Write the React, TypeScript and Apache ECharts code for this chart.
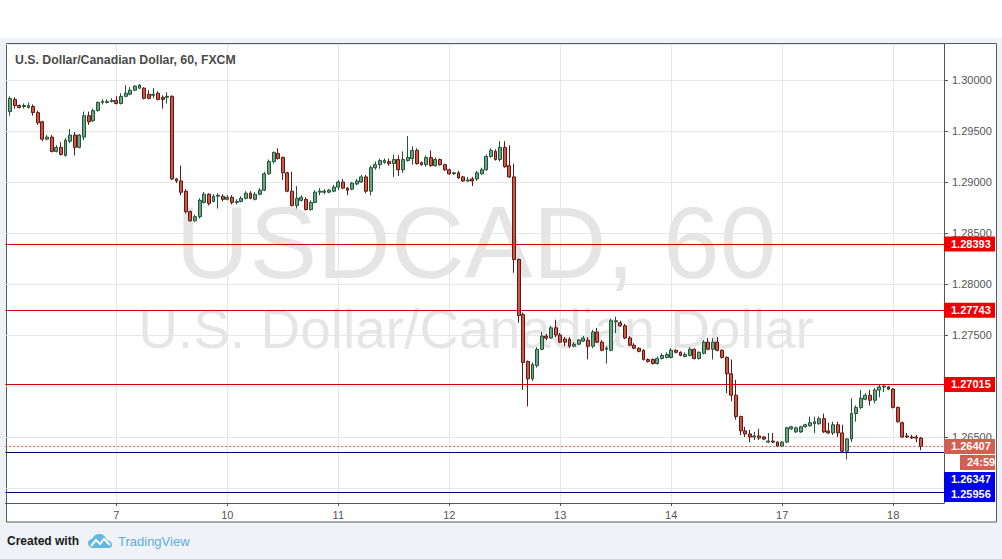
import React, { useEffect, useRef } from 'react';
import * as echarts from 'echarts';

// ---- Data (USDCAD, 60 min, FXCM) ----
const opens = [
  1.2969, 1.2981, 1.2975, 1.2974, 1.2973, 1.2974, 1.2968, 1.2959, 1.2942, 1.2944,
  1.2930, 1.2934, 1.2926, 1.2940, 1.2946, 1.2934, 1.2944, 1.2965, 1.2960, 1.2970,
  1.2978, 1.2978, 1.2979, 1.2980, 1.2977, 1.2984, 1.2986, 1.2990, 1.2992, 1.2992,
  1.2986, 1.2985, 1.2987, 1.2983, 1.2983, 1.2984, 1.2903, 1.2901, 1.2891, 1.2871,
  1.2862, 1.2866, 1.2880, 1.2888, 1.2881, 1.2886, 1.2886, 1.2883, 1.2885, 1.2880,
  1.2881, 1.2884, 1.2889, 1.2883, 1.2888, 1.2892, 1.2908, 1.2920, 1.2928, 1.2924,
  1.2909, 1.2891, 1.2877, 1.2882, 1.2883, 1.2873, 1.2880, 1.2890, 1.2890, 1.2890,
  1.2891, 1.2895, 1.2900, 1.2894, 1.2893, 1.2898, 1.2900, 1.2905, 1.2891, 1.2914,
  1.2917, 1.2919, 1.2920, 1.2918, 1.2922, 1.2912, 1.2921, 1.2923, 1.2931, 1.2919,
  1.2917, 1.2924, 1.2916, 1.2922, 1.2917, 1.2912, 1.2908, 1.2909, 1.2905, 1.2901,
  1.2903, 1.2903, 1.2908, 1.2912, 1.2925, 1.2930, 1.2922, 1.2934, 1.2916, 1.2905,
  1.2824, 1.2770, 1.2724, 1.2707, 1.2720, 1.2736, 1.2749, 1.2747, 1.2757, 1.2750,
  1.2746, 1.2746, 1.2739, 1.2741, 1.2744, 1.2745, 1.2739, 1.2753, 1.2743, 1.2736,
  1.2735, 1.2763, 1.2762, 1.2759, 1.2747, 1.2740, 1.2737, 1.2735, 1.2726, 1.2726,
  1.2722, 1.2727, 1.2728, 1.2728, 1.2735, 1.2733, 1.2729, 1.2730, 1.2736, 1.2727,
  1.2732, 1.2743, 1.2736, 1.2743, 1.2735, 1.2728, 1.2712, 1.2691, 1.2670, 1.2656,
  1.2653, 1.2650, 1.2651, 1.2650, 1.2645, 1.2646, 1.2645, 1.2641, 1.2645, 1.2658,
  1.2655, 1.2655, 1.2660, 1.2661, 1.2663, 1.2663, 1.2668, 1.2656, 1.2654, 1.2662,
  1.2654, 1.2636, 1.2648, 1.2673, 1.2679, 1.2687, 1.2691, 1.2686, 1.2696, 1.2699,
  1.2699, 1.2697, 1.2679, 1.2664, 1.2651, 1.2650, 1.2650, 1.2649,
];
const highs = [
  1.2984, 1.2983, 1.2976, 1.2977, 1.2978, 1.2976, 1.2970, 1.2960, 1.2946, 1.2946,
  1.2936, 1.2939, 1.2943, 1.2952, 1.2949, 1.2947, 1.2969, 1.2969, 1.2972, 1.2979,
  1.2981, 1.2981, 1.2982, 1.2984, 1.2987, 1.2995, 1.2993, 1.2995, 1.2996, 1.2993,
  1.2990, 1.2992, 1.2989, 1.2985, 1.2988, 1.2985, 1.2904, 1.2916, 1.2893, 1.2872,
  1.2868, 1.2884, 1.2890, 1.2889, 1.2888, 1.2889, 1.2888, 1.2887, 1.2887, 1.2883,
  1.2886, 1.2891, 1.2891, 1.2890, 1.2894, 1.2910, 1.2922, 1.2930, 1.2933, 1.2925,
  1.2910, 1.2910, 1.2896, 1.2887, 1.2885, 1.2882, 1.2892, 1.2894, 1.2893, 1.2893,
  1.2897, 1.2902, 1.2903, 1.2895, 1.2900, 1.2903, 1.2907, 1.2907, 1.2916, 1.2920,
  1.2923, 1.2923, 1.2923, 1.2927, 1.2926, 1.2930, 1.2945, 1.2935, 1.2933, 1.2920,
  1.2926, 1.2931, 1.2924, 1.2923, 1.2918, 1.2913, 1.2910, 1.2911, 1.2906, 1.2905,
  1.2905, 1.2911, 1.2914, 1.2927, 1.2933, 1.2932, 1.2940, 1.2940, 1.2936, 1.2918,
  1.2825, 1.2772, 1.2725, 1.2723, 1.2738, 1.2753, 1.2751, 1.2759, 1.2765, 1.2752,
  1.2748, 1.2748, 1.2743, 1.2746, 1.2749, 1.2748, 1.2755, 1.2757, 1.2745, 1.2739,
  1.2766, 1.2768, 1.2764, 1.2761, 1.2749, 1.2742, 1.2738, 1.2736, 1.2727, 1.2727,
  1.2729, 1.2732, 1.2733, 1.2737, 1.2736, 1.2734, 1.2733, 1.2738, 1.2737, 1.2734,
  1.2745, 1.2747, 1.2747, 1.2748, 1.2736, 1.2729, 1.2726, 1.2706, 1.2671, 1.2660,
  1.2657, 1.2655, 1.2658, 1.2651, 1.2654, 1.2654, 1.2646, 1.2646, 1.2660, 1.2661,
  1.2660, 1.2661, 1.2663, 1.2670, 1.2670, 1.2670, 1.2673, 1.2664, 1.2665, 1.2665,
  1.2662, 1.2649, 1.2688, 1.2681, 1.2696, 1.2693, 1.2696, 1.2698, 1.2701, 1.2701,
  1.2700, 1.2698, 1.2680, 1.2665, 1.2654, 1.2652, 1.2652, 1.2650,
];
const lows = [
  1.2965, 1.2972, 1.2972, 1.2972, 1.2972, 1.2965, 1.2956, 1.2940, 1.2941, 1.2929,
  1.2929, 1.2926, 1.2925, 1.2938, 1.2926, 1.2933, 1.2941, 1.2956, 1.2959, 1.2969,
  1.2976, 1.2977, 1.2978, 1.2976, 1.2976, 1.2983, 1.2985, 1.2989, 1.2991, 1.2981,
  1.2981, 1.2982, 1.2980, 1.2972, 1.2977, 1.2902, 1.2899, 1.2887, 1.2869, 1.2861,
  1.2861, 1.2864, 1.2879, 1.2877, 1.2880, 1.2874, 1.2881, 1.2882, 1.2878, 1.2878,
  1.2880, 1.2883, 1.2883, 1.2882, 1.2887, 1.2891, 1.2907, 1.2918, 1.2922, 1.2902,
  1.2890, 1.2876, 1.2874, 1.2881, 1.2872, 1.2872, 1.2879, 1.2887, 1.2888, 1.2889,
  1.2890, 1.2892, 1.2893, 1.2887, 1.2892, 1.2897, 1.2899, 1.2889, 1.2887, 1.2912,
  1.2913, 1.2918, 1.2916, 1.2905, 1.2906, 1.2909, 1.2920, 1.2917, 1.2917, 1.2916,
  1.2915, 1.2915, 1.2915, 1.2916, 1.2911, 1.2907, 1.2907, 1.2903, 1.2900, 1.2900,
  1.2896, 1.2901, 1.2907, 1.2911, 1.2924, 1.2921, 1.2920, 1.2914, 1.2904, 1.2811,
  1.2762, 1.2696, 1.2680, 1.2705, 1.2718, 1.2735, 1.2745, 1.2746, 1.2748, 1.2742,
  1.2739, 1.2737, 1.2738, 1.2740, 1.2743, 1.2726, 1.2737, 1.2742, 1.2734, 1.2722,
  1.2734, 1.2752, 1.2758, 1.2746, 1.2739, 1.2736, 1.2733, 1.2725, 1.2723, 1.2721,
  1.2721, 1.2726, 1.2727, 1.2727, 1.2732, 1.2729, 1.2728, 1.2729, 1.2726, 1.2726,
  1.2731, 1.2735, 1.2726, 1.2734, 1.2727, 1.2693, 1.2685, 1.2667, 1.2652, 1.2650,
  1.2645, 1.2647, 1.2647, 1.2647, 1.2644, 1.2644, 1.2640, 1.2640, 1.2644, 1.2657,
  1.2654, 1.2654, 1.2659, 1.2660, 1.2654, 1.2662, 1.2654, 1.2653, 1.2652, 1.2650,
  1.2635, 1.2628, 1.2645, 1.2665, 1.2677, 1.2686, 1.2681, 1.2683, 1.2689, 1.2694,
  1.2696, 1.2678, 1.2664, 1.2649, 1.2649, 1.2648, 1.2645, 1.2637,
];
const closes = [
  1.2982, 1.2975, 1.2973, 1.2975, 1.2975, 1.2968, 1.2958, 1.2942, 1.2944, 1.2930,
  1.2934, 1.2927, 1.2941, 1.2946, 1.2934, 1.2946, 1.2965, 1.2959, 1.2970, 1.2978,
  1.2979, 1.2979, 1.2980, 1.2977, 1.2984, 1.2987, 1.2990, 1.2994, 1.2995, 1.2982,
  1.2982, 1.2986, 1.2981, 1.2981, 1.2984, 1.2903, 1.2901, 1.2890, 1.2871, 1.2862,
  1.2866, 1.2882, 1.2888, 1.2879, 1.2886, 1.2887, 1.2883, 1.2885, 1.2880, 1.2881,
  1.2884, 1.2889, 1.2884, 1.2888, 1.2892, 1.2908, 1.2920, 1.2929, 1.2923, 1.2909,
  1.2891, 1.2877, 1.2884, 1.2885, 1.2873, 1.2880, 1.2890, 1.2891, 1.2891, 1.2892,
  1.2895, 1.2900, 1.2894, 1.2892, 1.2899, 1.2901, 1.2905, 1.2891, 1.2914, 1.2917,
  1.2921, 1.2921, 1.2918, 1.2922, 1.2912, 1.2922, 1.2924, 1.2931, 1.2918, 1.2917,
  1.2924, 1.2916, 1.2922, 1.2917, 1.2912, 1.2908, 1.2909, 1.2904, 1.2901, 1.2902,
  1.2901, 1.2909, 1.2912, 1.2925, 1.2931, 1.2922, 1.2934, 1.2915, 1.2905, 1.2824,
  1.2769, 1.2723, 1.2707, 1.2721, 1.2736, 1.2749, 1.2747, 1.2757, 1.2750, 1.2743,
  1.2743, 1.2739, 1.2741, 1.2745, 1.2747, 1.2739, 1.2753, 1.2743, 1.2735, 1.2737,
  1.2764, 1.2764, 1.2759, 1.2747, 1.2740, 1.2737, 1.2734, 1.2726, 1.2724, 1.2722,
  1.2727, 1.2730, 1.2731, 1.2735, 1.2733, 1.2730, 1.2731, 1.2736, 1.2727, 1.2733,
  1.2743, 1.2736, 1.2743, 1.2735, 1.2728, 1.2712, 1.2691, 1.2670, 1.2656, 1.2653,
  1.2650, 1.2651, 1.2649, 1.2648, 1.2646, 1.2645, 1.2641, 1.2645, 1.2659, 1.2660,
  1.2659, 1.2660, 1.2662, 1.2664, 1.2665, 1.2668, 1.2655, 1.2654, 1.2662, 1.2654,
  1.2636, 1.2648, 1.2673, 1.2679, 1.2688, 1.2691, 1.2686, 1.2696, 1.2699, 1.2700,
  1.2697, 1.2679, 1.2665, 1.2650, 1.2650, 1.2649, 1.2649, 1.26407,
];

const dayLabels = ['7', '10', '11', '12', '13', '14', '17', '18'];
const dayStartCandle = [23, 47, 71, 95, 119, 143, 167, 191];

const redLevels = [1.28393, 1.27743, 1.27015];
const blueLevels = [1.26347, 1.25956];
const lastPrice = 1.26407;
const countdown = '24:59';

const titleText = 'U.S. Dollar/Canadian Dollar, 60, FXCM';
const watermarkSymbol = 'USDCAD, 60';
const watermarkName = 'U.S. Dollar/Canadian Dollar';

const yMin = 1.258529;
const yMax = 1.303529;

// ---- Build library inputs ----
const LEAD = 1;
const TRAIL = 5;
const total = LEAD + opens.length + TRAIL;
const categories: string[] = Array.from({ length: total }, (_, i) => 'c' + i);
const labelAt = new Map<number, string>();
dayStartCandle.forEach((c, k) => labelAt.set(c + LEAD, dayLabels[k]));
const isDay = (index: number) => labelAt.has(index);

const candleData: any[] = [['-', '-', '-', '-']];
for (let i = 0; i < opens.length; i++) {
  candleData.push([opens[i], closes[i], lows[i], highs[i]]);
}

const FONT = '"Liberation Sans", Arial, sans-serif';

echarts.graphic.registerShape(
  'tvcloud',
  echarts.graphic.extendPath(
    'M5.5 14C2.5 14 0 11.8 0 9.2C0 6.8 1.9 4.9 4.3 4.7C5.4 1.9 8.1 0 11.2 0C14.9 0 18 2.6 18.7 6.1C21.6 6.2 24 8.3 24 10.9C24 12.6 22.6 14 20.9 14Z',
    {}
  ) as any
);

const option: any = {
  animation: false,
  backgroundColor: 'transparent',
  grid: { left: 5.4, right: 58, top: 44, bottom: 56 },
  xAxis: {
    type: 'category',
    data: categories,
    boundaryGap: false,
    axisLine: { show: true, lineStyle: { color: '#555', width: 1 } },
    axisTick: { show: true, interval: isDay, length: 3, lineStyle: { color: '#555' } },
    axisLabel: {
      show: true,
      interval: isDay,
      formatter: (_v: string, i: number) => labelAt.get(i) ?? '',
      color: '#555',
      fontSize: 11,
      fontFamily: FONT,
      margin: 6,
    },
    splitLine: { show: true, interval: isDay, lineStyle: { color: '#e6e6e6', width: 1 } },
  },
  yAxis: {
    type: 'value',
    position: 'right',
    min: yMin,
    max: yMax,
    splitNumber: 9,
    minInterval: 0.005,
    maxInterval: 0.005,
    axisLine: { show: true, lineStyle: { color: '#555', width: 1 } },
    axisTick: { show: true, length: 4, lineStyle: { color: '#555' } },
    axisLabel: {
      formatter: (v: number) => v.toFixed(5),
      showMinLabel: false,
      showMaxLabel: false,
      color: '#555',
      fontSize: 11,
      fontFamily: FONT,
      margin: 8,
    },
    splitLine: { show: true, lineStyle: { color: '#e6e6e6', width: 1 } },
  },
  series: [
    {
      type: 'candlestick',
      data: candleData,
      barWidth: 3.4,
      itemStyle: {
        color: '#6ba583',
        color0: '#d75442',
        borderColor: '#225437',
        borderColor0: '#5b1a13',
        borderWidth: 1,
      },
      markLine: {
        silent: true,
        precision: 5,
        symbol: ['none', 'none'],
        label: { show: false },
        emphasis: { disabled: true },
        data: [
          ...redLevels.map((v) => ({ yAxis: v, lineStyle: { color: '#cc0000', width: 1, type: 'solid' } })),
          ...blueLevels.map((v) => ({ yAxis: v, lineStyle: { color: '#00007a', width: 1, type: 'solid' } })),
          { yAxis: lastPrice, lineStyle: { color: '#c8604f', width: 1, type: [2, 2] } },
        ],
      },
    },
  ],
};

function badge(id: string, x: number, top: number, w: number, fill: string, text: string) {
  return {
    type: 'group',
    id,
    z: 60,
    children: [
      { type: 'rect', z: 60, shape: { x, y: top, width: w, height: 15 }, style: { fill } },
      {
        type: 'text',
        z: 61,
        x: x + 7,
        y: top + 7.5,
        style: { text, fill: '#fff', font: `bold 11px ${FONT}`, verticalAlign: 'middle', align: 'left' },
      },
    ],
  };
}

export default function App() {
  const ref = useRef<HTMLDivElement>(null);
  useEffect(() => {
    const chart = echarts.init(ref.current!, null, { renderer: 'svg' });
    chart.setOption(option);
    const py = (v: number) => chart.convertToPixel({ yAxisIndex: 0 }, v) as number;
    const axisX = 944;

    const elements: any[] = [
      { type: 'rect', id: 'topWhite', z: -20, shape: { x: 0, y: 0, width: 1002, height: 38 }, style: { fill: '#ffffff' } },
      {
        type: 'rect', id: 'panel', z: -10,
        shape: { x: 6.5, y: 43.5, width: 990, height: 478.5 },
        style: { fill: '#ffffff', stroke: '#5a5a5a', lineWidth: 1 },
      },
      {
        type: 'text', id: 'wm1', z: -5, x: 476, y: 243,
        style: { text: watermarkSymbol, font: `102px ${FONT}`, fill: 'rgba(0,0,0,0.1)', align: 'center', verticalAlign: 'middle' },
      },
      {
        type: 'text', id: 'wm2', z: -5, x: 476, y: 329,
        style: { text: watermarkName, font: `55px ${FONT}`, fill: 'rgba(0,0,0,0.1)', align: 'center', verticalAlign: 'middle' },
      },
      {
        type: 'text', id: 'title', z: 50, x: 15, y: 60,
        style: { text: titleText, font: `bold 12.3px ${FONT}`, fill: '#4a4a4a', verticalAlign: 'middle' },
      },
      ...redLevels.map((v, k) => badge('red' + k, axisX, py(v) - 7.5, 51, '#ee0000', v.toFixed(5))),
    ];
    const lastTop = py(lastPrice) - 7.5;
    elements.push(badge('last', axisX, lastTop, 51, '#d0604f', lastPrice.toFixed(5)));
    elements.push(badge('cd', axisX + 16, lastTop + 16, 35, '#d0604f', countdown));
    elements.push(badge('blue0', axisX, lastTop + 33, 51, '#0000f0', blueLevels[0].toFixed(5)));
    elements.push(badge('blue1', axisX, Math.max(lastTop + 48, py(blueLevels[1]) - 7.5), 51, '#0000f0', blueLevels[1].toFixed(5)));

    elements.push(
      {
        type: 'text', id: 'created', z: 50, x: 7, y: 541,
        style: { text: 'Created with', font: `bold 12px ${FONT}`, fill: '#1a1a1a', verticalAlign: 'middle' },
      },
      { type: 'tvcloud', id: 'logo', z: 50, x: 88, y: 534, scaleX: 1, scaleY: 1, style: { fill: '#62b7e3' } },
      {
        type: 'polyline', id: 'logoLine', z: 51,
        shape: { points: [[91, 546], [96, 540], [100, 544], [104, 539], [110, 545]] },
        style: { stroke: '#ffffff', lineWidth: 2, fill: 'none' },
      },
      {
        type: 'text', id: 'tv', z: 50, x: 118, y: 541,
        style: { text: 'TradingView', font: `13px ${FONT}`, fill: '#5aaee0', verticalAlign: 'middle' },
      }
    );
    chart.setOption({ graphic: { elements } });
    return () => chart.dispose();
  }, []);
  return (
    <div
      ref={ref}
      style={{ position: 'absolute', left: 0, top: 0, width: 1002, height: 559, background: '#eff2f6' }}
    />
  );
}
